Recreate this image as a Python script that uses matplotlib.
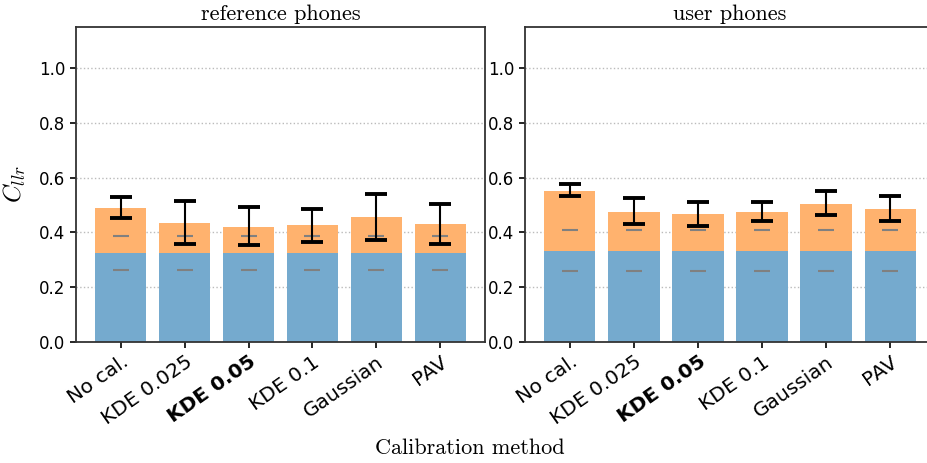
import matplotlib
matplotlib.use("Agg")
import matplotlib.pyplot as plt
import numpy as np

plt.rcParams['mathtext.fontset'] = 'cm'

methods = ["No cal.", "KDE 0.025", "KDE 0.05", "KDE 0.1", "Gaussian", "PAV"]
panel_titles = ["reference phones", "user phones"]

# blue part (discrimination) and total Cllr per method
ref_base = [0.325, 0.325, 0.325, 0.325, 0.325, 0.325]
ref_total = [0.489, 0.434, 0.420, 0.427, 0.455, 0.430]
ref_err_lo = [0.453, 0.358, 0.354, 0.365, 0.371, 0.358]
ref_err_hi = [0.529, 0.515, 0.493, 0.487, 0.541, 0.504]
ref_marks = [0.263, 0.387]

usr_base = [0.333, 0.333, 0.333, 0.333, 0.333, 0.333]
usr_total = [0.553, 0.476, 0.467, 0.474, 0.505, 0.485]
usr_err_lo = [0.533, 0.430, 0.423, 0.442, 0.462, 0.441]
usr_err_hi = [0.576, 0.524, 0.511, 0.511, 0.550, 0.533]
usr_marks = [0.261, 0.408]

blue = '#75aace'
orange = '#ffb26e'

fig = plt.figure(figsize=(9.28, 4.63), dpi=100)
ax1 = fig.add_axes([76 / 928, 121 / 463, 409 / 928, 315 / 463])
ax2 = fig.add_axes([525 / 928, 121 / 463, 410 / 928, 315 / 463])

panels = [
    (ax1, ref_base, ref_total, ref_err_lo, ref_err_hi, ref_marks),
    (ax2, usr_base, usr_total, usr_err_lo, usr_err_hi, usr_marks),
]

x = np.arange(len(methods))
for k, (ax, base, total, lo, hi, marks) in enumerate(panels):
    base = np.array(base)
    total = np.array(total)
    lo = np.array(lo)
    hi = np.array(hi)
    ax.set_axisbelow(True)
    ax.grid(axis='y', linestyle=':', color='#bbbbbb', linewidth=1)
    ax.bar(x, base, width=0.8, color=blue)
    ax.bar(x, total - base, bottom=base, width=0.8, color=orange)
    for m in marks:
        ax.plot(x, [m] * len(x), linestyle='none', marker='_', markersize=12,
                markeredgewidth=1.5, color='gray', zorder=3)
    mid = (lo + hi) / 2
    ax.errorbar(x, mid, yerr=(hi - lo) / 2, fmt='none', ecolor='black',
                elinewidth=1.5, capsize=8, capthick=2.8, zorder=4)
    ax.set_xlim(-0.7, 5.7)
    ax.set_ylim(0, 1.15)
    ax.set_yticks([0.0, 0.2, 0.4, 0.6, 0.8, 1.0])
    ax.tick_params(axis='y', labelsize=12)
    ax.tick_params(axis='x', labelsize=14.5)
    ax.tick_params(axis='both', width=1.2, length=4)
    ax.set_xticks(x)
    ax.set_xticklabels(methods, rotation=35, ha='right', rotation_mode='anchor')
    ax.get_xticklabels()[2].set_fontweight('bold')
    for sp in ax.spines.values():
        sp.set_linewidth(1.3)
        sp.set_color('#333333')
    ax.set_title(panel_titles[k], fontfamily='cmr10', fontsize=16, pad=5)

ax1.set_ylabel(r'$C_{llr}$', fontsize=18, labelpad=8)
fig.text(470 / 928, 1 - 448 / 463, "Calibration method", fontfamily='cmr10',
         fontsize=16, ha='center', va='center')

fig.savefig("out.png", dpi=100)
